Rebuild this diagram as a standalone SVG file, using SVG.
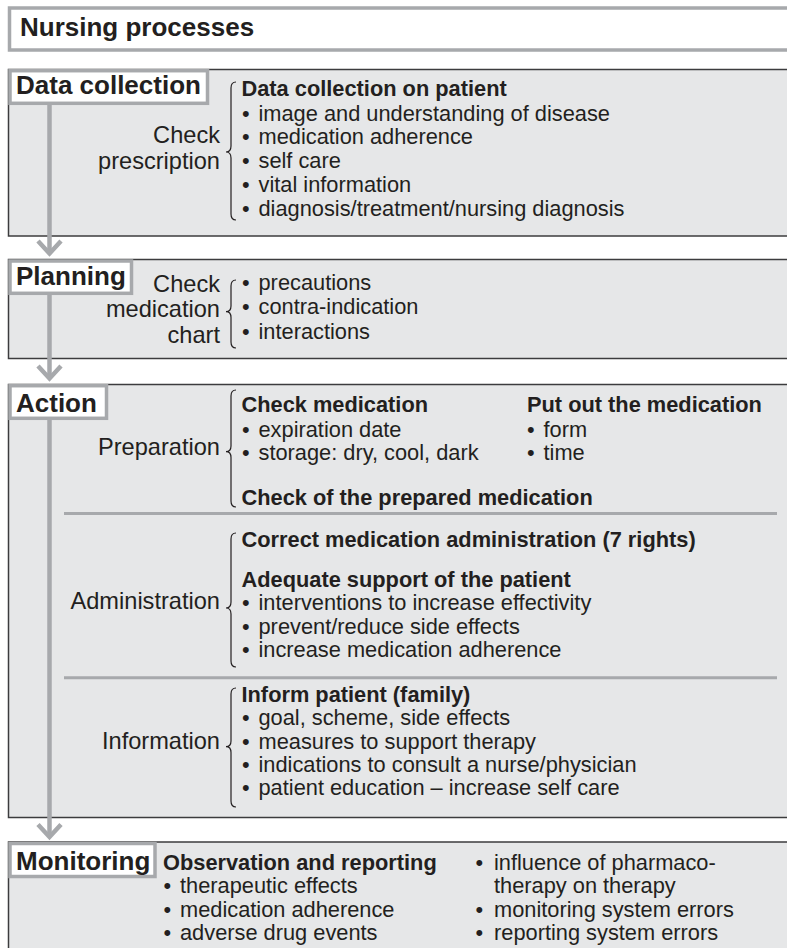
<svg xmlns="http://www.w3.org/2000/svg" width="787" height="948" viewBox="0 0 787 948">
<style>
text{font-family:"Liberation Sans",Arial,Helvetica,sans-serif;fill:#231f20}
.box{fill:#e6e7e8;stroke:#3c3c3e;stroke-width:1.5}
.lbl{fill:#ffffff;stroke:#a7a9ac;stroke-width:3.5}
.h{font-weight:bold;font-size:26px}
.t{font-size:21.8px}
.b{font-weight:bold}
.side{font-size:23.6px;text-anchor:end}
.brace{fill:none;stroke:#231f20;stroke-width:1.2}
.sep{stroke:#a7a9ac;stroke-width:3}
.conn{fill:none;stroke:#a7a9ac;stroke-width:4.5;stroke-linejoin:miter}
</style>

<g id="title">
<rect class="lbl" x="9.5" y="8" width="800" height="42"/>
<text class="h" x="20" y="36">Nursing processes</text>
</g>

<g id="data-collection">
<rect class="box" x="8.5" y="69.5" width="800" height="166.5"/>
<rect class="lbl" x="10" y="70.7" width="197.5" height="32.6"/>
<text class="h" x="16" y="94">Data collection</text>
<text class="t side" x="220" y="143">Check</text>
<text class="t side" x="220" y="168.5">prescription</text>
<path class="brace" d="M236 82 C232 82 231 84 231 88 L231 146 C231 149.5 229.5 152 226 152 C229.5 152 231 154.5 231 158 L231 214 C231 218 232 220 236 220"/>
<text class="t b" x="241.5" y="96">Data collection on patient</text>
<text class="t" y="120.5"><tspan x="242">•</tspan><tspan x="258.5">image and understanding of disease</tspan></text>
<text class="t" y="144.3"><tspan x="242">•</tspan><tspan x="258.5">medication adherence</tspan></text>
<text class="t" y="168.3"><tspan x="242">•</tspan><tspan x="258.5">self care</tspan></text>
<text class="t" y="192.3"><tspan x="242">•</tspan><tspan x="258.5">vital information</tspan></text>
<text class="t" y="216.3"><tspan x="242">•</tspan><tspan x="258.5">diagnosis/treatment/nursing diagnosis</tspan></text>
</g>

<g id="planning">
<rect class="box" x="8.5" y="259.5" width="800" height="99"/>
<rect class="lbl" x="10" y="261" width="121.5" height="32.3"/>
<text class="h" x="16" y="285">Planning</text>
<text class="t side" x="220" y="291.7">Check</text>
<text class="t side" x="220" y="317">medication</text>
<text class="t side" x="220" y="342.5">chart</text>
<path class="brace" d="M236 280 C232 280 231 282 231 286 L231 306 C231 309.5 229.5 311.7 226 311.7 C229.5 311.7 231 314 231 317.5 L231 342 C231 346 232 348 236 348"/>
<text class="t" y="289.5"><tspan x="242">•</tspan><tspan x="258.5">precautions</tspan></text>
<text class="t" y="314"><tspan x="242">•</tspan><tspan x="258.5">contra-indication</tspan></text>
<text class="t" y="338.5"><tspan x="242">•</tspan><tspan x="258.5">interactions</tspan></text>
</g>

<g id="action">
<rect class="box" x="8.5" y="384.5" width="800" height="433"/>
<rect class="lbl" x="10" y="385.7" width="96.5" height="32.6"/>
<text class="h" x="16" y="411.7">Action</text>
<line class="sep" x1="64" y1="513.5" x2="777" y2="513.5"/>
<line class="sep" x1="64" y1="677.7" x2="777" y2="677.7"/>

<text class="t side" x="220" y="455">Preparation</text>
<path class="brace" d="M236 390 C232 390 231 392 231 396 L231 446 C231 449.5 229.5 451.7 226 451.7 C229.5 451.7 231 454 231 457.5 L231 501 C231 505 232 507 236 507"/>
<text class="t b" x="241.5" y="412">Check medication</text>
<text class="t" y="436.5"><tspan x="242">•</tspan><tspan x="258.5">expiration date</tspan></text>
<text class="t" y="460"><tspan x="242">•</tspan><tspan x="258.5">storage: dry, cool, dark</tspan></text>
<text class="t b" x="527" y="412">Put out the medication</text>
<text class="t" y="436.5"><tspan x="527">•</tspan><tspan x="543.5">form</tspan></text>
<text class="t" y="460"><tspan x="527">•</tspan><tspan x="543.5">time</tspan></text>
<text class="t b" x="241.5" y="505">Check of the prepared medication</text>

<text class="t side" x="220" y="608.5">Administration</text>
<path class="brace" d="M236 533 C232 533 231 535 231 539 L231 602 C231 605.5 229.5 608 226 608 C229.5 608 231 610.5 231 614 L231 661 C231 665 232 667 236 667"/>
<text class="t b" x="241.5" y="546.7">Correct medication administration (7 rights)</text>
<text class="t b" x="241.5" y="586.7">Adequate support of the patient</text>
<text class="t" y="610"><tspan x="242">•</tspan><tspan x="258.5">interventions to increase effectivity</tspan></text>
<text class="t" y="633.5"><tspan x="242">•</tspan><tspan x="258.5">prevent/reduce side effects</tspan></text>
<text class="t" y="657"><tspan x="242">•</tspan><tspan x="258.5">increase medication adherence</tspan></text>

<text class="t side" x="220" y="748.5">Information</text>
<path class="brace" d="M236 688 C232 688 231 690 231 694 L231 741 C231 744.5 229.5 746.7 226 746.7 C229.5 746.7 231 749 231 752.5 L231 801 C231 805 232 807 236 807"/>
<text class="t b" x="241.5" y="701.7">Inform patient (family)</text>
<text class="t" y="725"><tspan x="242">•</tspan><tspan x="258.5">goal, scheme, side effects</tspan></text>
<text class="t" y="748.5"><tspan x="242">•</tspan><tspan x="258.5">measures to support therapy</tspan></text>
<text class="t" y="772"><tspan x="242">•</tspan><tspan x="258.5">indications to consult a nurse/physician</tspan></text>
<text class="t" y="795"><tspan x="242">•</tspan><tspan x="258.5">patient education – increase self care</tspan></text>
</g>

<g id="monitoring">
<rect class="box" x="8.5" y="842" width="800" height="120"/>
<rect class="lbl" x="10" y="843.5" width="145" height="33"/>
<text class="h" x="16" y="870">Monitoring</text>
<text class="t b" x="163" y="870">Observation and reporting</text>
<text class="t" y="893.3"><tspan x="163.5">•</tspan><tspan x="180">therapeutic effects</tspan></text>
<text class="t" y="916.7"><tspan x="163.5">•</tspan><tspan x="180">medication adherence</tspan></text>
<text class="t" y="940"><tspan x="163.5">•</tspan><tspan x="180">adverse drug events</tspan></text>
<text class="t" y="870"><tspan x="475.5">•</tspan><tspan x="494">influence of pharmaco-</tspan></text>
<text class="t" x="494" y="893.3">therapy on therapy</text>
<text class="t" y="916.7"><tspan x="475.5">•</tspan><tspan x="494">monitoring system errors</tspan></text>
<text class="t" y="940"><tspan x="475.5">•</tspan><tspan x="494">reporting system errors</tspan></text>
</g>

<g id="connectors">
<path class="conn" d="M49.5 105 L49.5 253"/>
<path class="conn" d="M38 241 L49.5 253.5 L61 241"/>
<path class="conn" d="M49.5 295 L49.5 378"/>
<path class="conn" d="M38 366 L49.5 378.5 L61 366"/>
<path class="conn" d="M49.5 420 L49.5 837"/>
<path class="conn" d="M38 824.5 L49.5 837 L61 824.5"/>
</g>
</svg>
